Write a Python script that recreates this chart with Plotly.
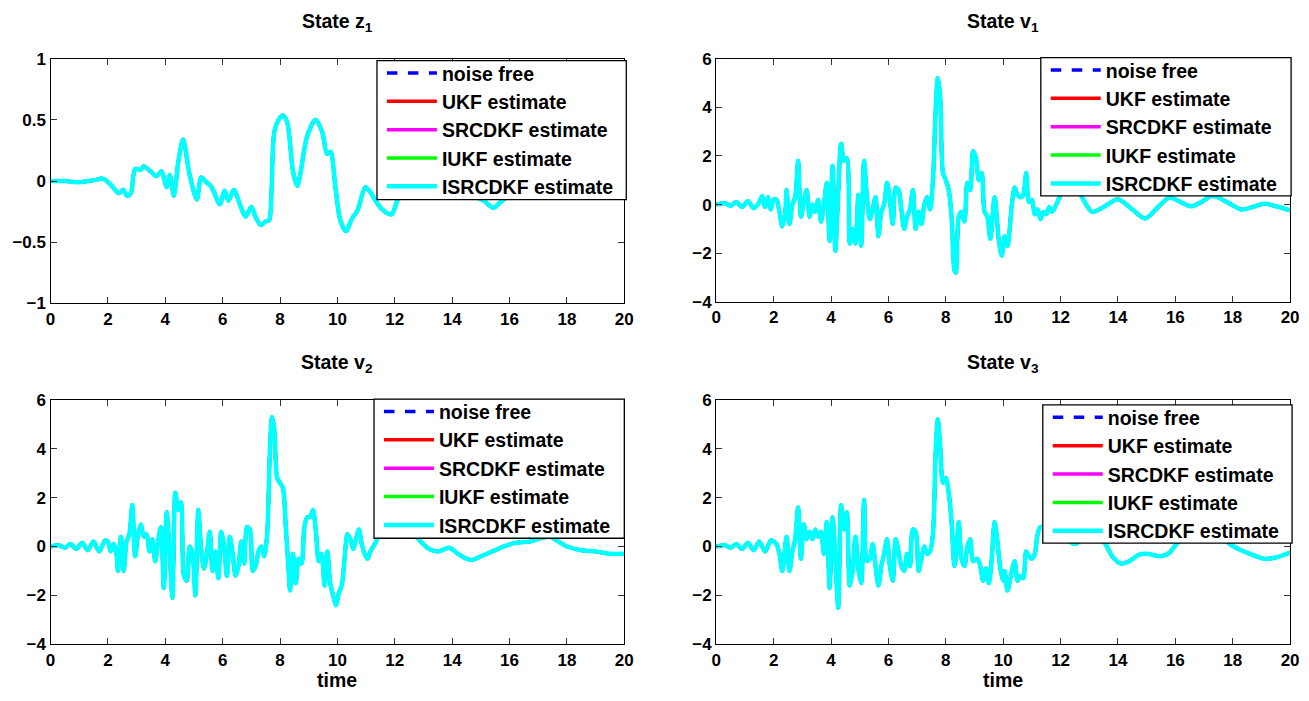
import plotly.graph_objects as go

# ---------------- data ----------------
series_names = ["noise free", "UKF estimate", "SRCDKF estimate", "IUKF estimate", "ISRCDKF estimate"]
series_colors = ["#0000ff", "#ff0000", "#ff00ff", "#00ff00", "#00ffff"]

t_z1 = [0, 0.5, 1.0, 1.3, 1.6, 1.75, 1.9, 2.1, 2.38, 2.53, 2.67, 2.8, 2.95, 3.13, 3.25, 3.48, 3.7,
        3.87, 4.05, 4.16, 4.3, 4.45, 4.62, 4.85, 5.1, 5.25, 5.43, 5.55, 5.66, 5.9, 6.07, 6.2, 6.39,
        6.6, 6.8, 7.0, 7.14, 7.33, 7.5, 7.62, 7.7, 7.8, 7.95, 8.1, 8.25, 8.45, 8.6, 8.7, 8.95, 9.24,
        9.47, 9.64, 9.76, 9.93, 10.1, 10.3, 10.5, 10.7, 10.98, 11.15, 11.3, 11.55, 11.8, 11.9, 12.0,
        12.1, 12.5, 13.0, 13.5, 14.0, 14.5, 15.1, 15.3, 15.45, 15.6, 15.8, 16.2, 17.0, 18.0, 19.0, 20.0]
z1_true = [0, 0, -0.01, 0.0, 0.01, 0.02, 0.01, -0.03, -0.1, -0.07, -0.12, -0.1, 0.1, 0.09, 0.12, 0.08, 0.04,
           0.08, -0.05, 0.05, -0.12, 0.15, 0.34, 0.05, -0.15, 0.03, -0.01, -0.03, -0.07, -0.19, -0.08, -0.16, -0.07,
           -0.19, -0.29, -0.21, -0.29, -0.36, -0.33, -0.32, -0.1, 0.4, 0.5, 0.535, 0.48, 0.08, -0.04, 0.05, 0.37, 0.5,
           0.4, 0.22, 0.24, -0.05, -0.32, -0.41, -0.31, -0.24, -0.05, -0.09, -0.15, -0.23, -0.27, -0.27, -0.22,
           -0.15, 0.0, 0.1, 0.05, -0.05, -0.1, -0.16, -0.2, -0.22, -0.19, -0.15, -0.05, 0.1, 0.05, 0.0, 0.0]

t_v1 = [0, 0.3, 0.5, 0.7, 0.9, 1.1, 1.3, 1.5, 1.6, 1.7, 1.8, 1.9, 2.0, 2.1, 2.2, 2.3, 2.4, 2.45, 2.55, 2.65,
        2.75, 2.85, 2.95, 3.05, 3.15, 3.25, 3.35, 3.45, 3.55, 3.65, 3.75, 3.85, 3.95, 4.05, 4.15, 4.25, 4.35,
        4.45, 4.55, 4.65, 4.75, 4.85, 4.95, 5.05, 5.15, 5.25, 5.35, 5.45, 5.55, 5.65, 5.75, 5.85, 5.95, 6.05,
        6.15, 6.25, 6.35, 6.45, 6.55, 6.65, 6.75, 6.85, 6.95, 7.05, 7.15, 7.25, 7.35, 7.45, 7.55, 7.65, 7.72,
        7.8, 7.9, 8.0, 8.1, 8.2, 8.3, 8.35, 8.45, 8.55, 8.65, 8.75, 8.85, 8.95, 9.05, 9.15, 9.25, 9.35, 9.45,
        9.55, 9.7, 9.85, 9.95, 10.05, 10.15, 10.3, 10.4, 10.5, 10.6, 10.7, 10.8, 10.9, 11.0, 11.1, 11.2, 11.3,
        11.4, 11.5, 11.6, 11.7, 11.85, 12.0, 12.4, 12.7, 13.1, 13.5, 14.0, 14.5, 14.95, 15.4, 15.8, 16.2,
        16.55, 16.9, 17.3, 17.8, 18.3, 18.7, 19.1, 19.6, 20.0]
v1_true = [0, 0.05, -0.05, 0.1, -0.1, 0.15, -0.15, 0.1, 0.35, -0.1, 0.3, -0.2, 0.2, 0.2, -0.3, -0.9, -0.4, 0.6, -0.8, 0.0,
           0.3, 1.8, -0.5, 0.1, 0.6, -0.5, 0.0, -0.3, 0.2, -0.7, 0.0, 0.9, -1.5, 1.6, -1.9, 0.5, 2.5,
           1.8, 1.9, -1.6, -1.0, -1.6, 0.4, -1.7, 1.8, 0.3, -0.6, -0.2, 0.3, -1.3, -0.3, 0.0, 0.9, 0.2,
           -0.8, 0.7, 0.6, -0.2, -1.0, -0.5, -0.2, 0.6, -1.0, -0.3, -0.8, 0.0, 0.3, -0.2, 1.0, 4.0, 5.2,
           4.5, 1.3, 1.0, 0.6, -0.5, -2.7, -2.8, -0.5, -0.3, -0.7, 0.9, 0.6, 2.2, 1.9, 1.0, 1.3, -0.3, -0.5,
           -1.4, 0.3, -1.5, -2.1, -1.3, -1.7, 0.0, 0.7, 0.4, 0.3, 0.4, 1.3, 0.1, 0.2, -0.4, -0.2, -0.6,
           -0.3, -0.4, -0.1, -0.3, 0.0, 0.4, 1.0, 0.4, -0.3, -0.1, 0.22, -0.2, -0.57, -0.1, 0.29, 0.09,
           -0.07, 0.1, 0.36, 0.1, -0.2, -0.1, 0.03, -0.1, -0.24]

t_v2 = [0, 0.3, 0.5, 0.7, 0.9, 1.1, 1.3, 1.5, 1.7, 1.9, 2.0, 2.1, 2.2, 2.3, 2.35, 2.45, 2.55, 2.65, 2.75, 2.85,
        2.95, 3.05, 3.15, 3.25, 3.35, 3.45, 3.55, 3.65, 3.75, 3.85, 3.95, 4.05, 4.15, 4.25, 4.35, 4.45, 4.55,
        4.65, 4.75, 4.85, 4.95, 5.05, 5.15, 5.25, 5.35, 5.45, 5.55, 5.65, 5.75, 5.85, 5.95, 6.05, 6.15, 6.25,
        6.35, 6.45, 6.55, 6.65, 6.75, 6.85, 6.95, 7.05, 7.15, 7.25, 7.35, 7.45, 7.55, 7.65, 7.72, 7.8, 7.9,
        8.0, 8.1, 8.2, 8.3, 8.35, 8.45, 8.55, 8.65, 8.75, 8.85, 8.95, 9.05, 9.15, 9.25, 9.35, 9.45, 9.55,
        9.65, 9.75, 9.85, 9.95, 10.05, 10.15, 10.25, 10.35, 10.45, 10.55, 10.65, 10.75, 10.85, 10.95, 11.05,
        11.15, 11.25, 11.35, 11.5, 12.0, 12.5, 12.9, 13.2, 13.5, 13.9, 14.2, 14.5, 14.7, 15.0, 15.4, 15.8,
        16.2, 16.7, 17.1, 17.4, 17.7, 18.0, 18.5, 19.0, 19.5, 20.0]
v2_true = [0, 0.05, -0.05, 0.1, -0.1, 0.15, -0.15, 0.2, -0.2, 0.25, 0.2, -0.2, 0.1, -0.3, -1.0, 0.4, -1.0, 0.2, 0.5, 1.7,
           -0.4, 0.5, 0.9, 0.4, 0.5, -0.2, 0.3, -0.6, 0.2, 0.8, -1.7, 1.4, -0.2, -2.1, 2.2, 1.5, 1.8,
           -1.2, -1.4, 0.0, -0.3, -2.0, 1.5, -0.1, -0.9, -0.3, 0.6, -1.0, -0.2, -1.3, 0.6, 0.0, -1.2, 0.4,
           -0.3, -1.2, -0.8, 0.2, -0.7, 0.8, 0.7, -1.0, -0.8, -0.2, 0.0, -0.4, 0.5, 4.0, 5.3, 4.8, 2.8,
           2.6, 2.4, 0.8, -1.0, -1.8, -0.3, -1.5, -0.5, -0.7, 0.8, 1.2, 1.2, 1.5, 0.6, -0.6, -0.3, -1.6,
           -0.2, -1.5, -2.0, -2.4, -1.9, -1.6, -0.5, 0.5, 0.3, -0.1, 0.3, 0.7, 0.1, -0.3, -0.5,
           -0.2, 0.0, 0.2, 0.6, 0.6, 0.7, 0.2, -0.1, -0.2, -0.05, -0.3, -0.5, -0.55, -0.4, -0.2, 0.0,
           0.15, 0.2, 0.35, 0.4, 0.2, 0.0, -0.15, -0.2, -0.3, -0.3]

t_v3 = [0, 0.3, 0.5, 0.7, 0.9, 1.1, 1.3, 1.5, 1.7, 1.9, 2.0, 2.1, 2.2, 2.3, 2.45, 2.55, 2.65, 2.75, 2.85, 2.95,
        3.05, 3.15, 3.25, 3.35, 3.45, 3.55, 3.65, 3.75, 3.85, 3.95, 4.05, 4.15, 4.25, 4.35, 4.45, 4.55, 4.65,
        4.75, 4.85, 4.95, 5.05, 5.15, 5.25, 5.35, 5.45, 5.55, 5.65, 5.75, 5.85, 5.95, 6.05, 6.15, 6.25, 6.35,
        6.45, 6.55, 6.65, 6.75, 6.85, 6.95, 7.05, 7.15, 7.25, 7.35, 7.45, 7.55, 7.65, 7.72, 7.8, 7.9, 8.0,
        8.1, 8.2, 8.3, 8.35, 8.45, 8.55, 8.65, 8.75, 8.85, 8.95, 9.1, 9.2, 9.3, 9.4, 9.5, 9.6, 9.7, 9.8,
        9.9, 10.0, 10.05, 10.15, 10.3, 10.4, 10.5, 10.6, 10.7, 10.8, 10.9, 11.0, 11.1, 11.2, 11.3, 12.0,
        12.5, 13.0, 13.5, 13.8, 14.1, 14.4, 14.7, 15.0, 15.5, 15.8, 16.1, 16.5, 17.0, 17.5, 17.9, 18.2,
        18.6, 19.1, 19.5, 20.0]
v3_true = [0, 0.05, -0.05, 0.1, -0.1, 0.15, -0.15, 0.2, -0.2, 0.25, 0.2, 0.1, -0.3, -1.0, 0.4, -1.0, -0.2, 0.3, 1.6, -0.5,
           0.9, 0.3, 0.6, 0.3, 0.7, 0.4, 0.6, -0.3, 1.0, -1.7, 1.2, -0.5, -2.5, 1.7, 0.7, 1.4, -1.6,
           -1.0, 0.4, -0.9, -1.5, 1.9, -0.6, -0.5, 0.1, -0.8, -1.6, -0.8, -0.3, 0.3, -0.8, -1.4, 0.3, -0.2,
           -0.8, -1.0, -0.3, -0.8, 0.7, 0.6, -1.0, -0.5, 0.0, -0.3, -0.2, 0.5, 4.0, 5.2, 4.2, 2.6, 2.8,
           2.2, 1.0, -0.8, -0.5, 1.0, -0.5, -0.8, 0.0, 0.3, -0.6, -0.5, -0.8, -1.4, -0.9, -1.5, -0.5, 1.0, 0.2,
           -0.9, -1.4, -1.0, -1.8, -1.0, -0.6, -1.4, -1.2, -1.3, -0.2, -0.4, -0.5, -0.3, 0.5, 0.8, 0.5,
           0.1, 0.5, 0.2, -0.4, -0.7, -0.6, -0.35, -0.3, -0.4, -0.25, 0.2, 0.6, 0.8, 0.6, 0.1, -0.1,
           -0.3, -0.5, -0.45, -0.25]

panel_times = [t_z1, t_v1, t_v2, t_v3]
panel_values = [z1_true, v1_true, v2_true, v3_true]
panel_titles = ["State z<sub>1</sub>", "State v<sub>1</sub>", "State v<sub>2</sub>", "State v<sub>3</sub>"]
y_ranges = [[-1, 1], [-4, 6], [-4, 6], [-4, 6]]
y_dticks = [0.5, 2, 2, 2]
x_range = [0, 20]
x_dtick = 2
xlabel_text = "time"

# ---------------- layout geometry ----------------
W, H = 1309, 701
# pixel boxes of the four axes: (left, right, top, bottom)
boxes = [(46, 626, 51, 302.7), (719, 1299, 51, 301), (46, 626, 401.7, 653), (719, 1299, 401.7, 653)]
# pixel boxes of the four legends: (left, right, top, bottom)
legend_boxes = [(376, 628, 53, 196), (1047, 1300, 50, 192), (373, 626, 401, 544), (1049, 1301, 407, 549)]

FONT = "Liberation Sans, Arial, Helvetica, sans-serif"
LEG_FONT = 19.5

fig = go.Figure()
widths = [3.5, 3.5, 3.5, 3.5, 4.5]
dashes = ["dash", "solid", "solid", "solid", "solid"]

for k in range(4):
    sfx = "" if k == 0 else str(k + 1)
    for s in range(5):
        fig.add_trace(go.Scatter(
            x=panel_times[k], y=list(panel_values[k]), mode="lines",
            name=series_names[s],
            line=dict(color=series_colors[s], width=widths[s], dash=dashes[s], shape="spline", smoothing=0.8),
            xaxis="x" + sfx, yaxis="y" + sfx,
            legend="legend" + sfx, showlegend=True, hoverinfo="skip"))

layout = dict(width=W, height=H, margin=dict(l=0, r=0, t=0, b=0),
              paper_bgcolor="white", plot_bgcolor="white",
              font=dict(family=FONT, size=17, color="black", weight="bold"))
annotations = []
shapes = []
for k in range(4):
    sfx = "" if k == 0 else str(k + 1)
    l, r, t, b = boxes[k]
    xd = [l / W, r / W]
    yd = [1 - b / H, 1 - t / H]
    axis_common = dict(showline=True, linecolor="black", linewidth=1.3, mirror="ticks",
                       ticks="inside", ticklen=6, tickwidth=1, tickcolor="#333",
                       showgrid=False, zeroline=False,
                       tickfont=dict(family=FONT, size=17, color="black", weight="bold"))
    layout["xaxis" + sfx] = dict(domain=xd, range=x_range, dtick=x_dtick, tick0=0,
                                 anchor="y" + sfx, **axis_common)
    layout["yaxis" + sfx] = dict(domain=yd, range=y_ranges[k], dtick=y_dticks[k], tick0=0,
                                 anchor="x" + sfx, **axis_common)
    ll, lr, lt, lb = legend_boxes[k]
    # white framed box that hides the curves behind the legend
    shapes.append(dict(type="rect", xref="paper", yref="paper",
                       x0=ll / W, x1=lr / W, y0=1 - lb / H, y1=1 - lt / H,
                       fillcolor="white", line=dict(color="black", width=1.3), layer="above"))
    layout["legend" + sfx] = dict(x=(ll + 5) / W, y=1 - (lt - 7) / H, xanchor="left", yanchor="top",
                                  bgcolor="rgba(0,0,0,0)", borderwidth=0,
                                  font=dict(family=FONT, size=LEG_FONT, color="black", weight="bold"),
                                  itemwidth=50, tracegroupgap=0, traceorder="normal")
    annotations.append(dict(text=panel_titles[k], x=(l + r) / 2 / W, y=1 - (t - 22) / H,
                            xref="paper", yref="paper", xanchor="center", yanchor="bottom",
                            showarrow=False,
                            font=dict(family=FONT, size=19.5, color="black", weight="bold")))
    if k >= 2:
        annotations.append(dict(text=xlabel_text, x=(l + r) / 2 / W, y=1 - 690 / H,
                                xref="paper", yref="paper", xanchor="center", yanchor="middle",
                                showarrow=False,
                                font=dict(family=FONT, size=19.5, color="black", weight="bold")))
layout["annotations"] = annotations
layout["shapes"] = shapes
fig.update_layout(**layout)
fig.write_html("out.html")
